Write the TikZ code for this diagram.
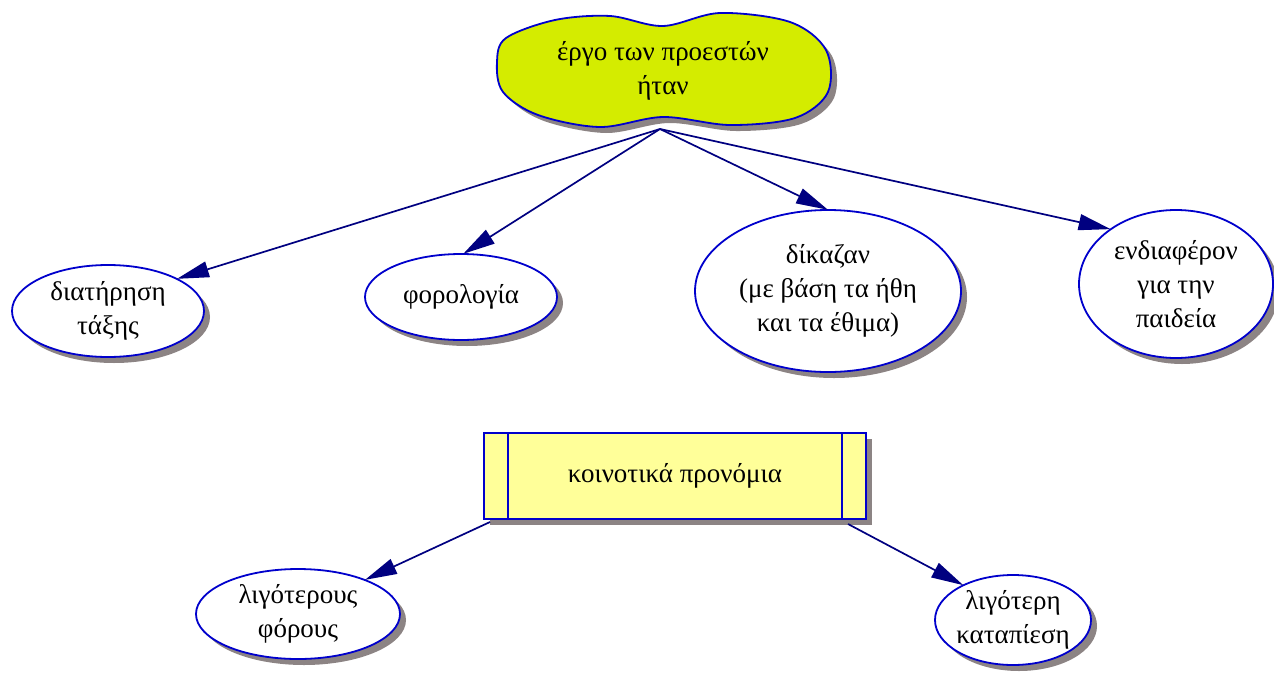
\documentclass[tikz,border=0pt]{standalone}
\usepackage{fontspec}
\setmainfont{Liberation Serif}
\usetikzlibrary{arrows.meta,shapes.geometric}
\definecolor{navyline}{HTML}{000080}
\definecolor{blueline}{HTML}{0000CC}
\definecolor{cloudfill}{HTML}{D4EC00}
\definecolor{boxfill}{HTML}{FFFF99}
\definecolor{shadowgray}{HTML}{8C8484}
\begin{document}
\begin{tikzpicture}[x=1pt,y=-1pt,
  txt/.style={font=\fontsize{27}{34}\selectfont, align=center, inner sep=0pt},
  conn/.style={draw=navyline, line width=1.7pt, -{Triangle[length=32pt,width=16pt]}}
]
\useasboundingbox (0,0) rectangle (1274,672);
% cloud
\def\cloudpath{plot[smooth cycle, tension=0.55] coordinates {(497,62) (506,38) (555,20) (610,16) (663,26) (720,13) (790,22) (826,50) (828,92) (795,118) (730,125) (663,117) (600,127) (538,115) (503,92)}}
\begin{scope}[shift={(6,6)}]
\fill[shadowgray] \cloudpath;
\end{scope}
\filldraw[fill=cloudfill, draw=blueline, line width=1.8pt] \cloudpath;
\node[txt] (cloud) at (663,71) {έργο των προεστών\\ήταν};
\coordinate (src) at (660,129);
% ellipses with shadows
\newcommand{\ellnode}[5]{%
  \fill[shadowgray] (#2+6,#3+6) ellipse [x radius=#4, y radius=#5];
  \draw[blueline, line width=1.8pt, fill=white] (#2,#3) ellipse [x radius=#4, y radius=#5];
  \node[ellipse, minimum width=2*#4, minimum height=2*#5, inner sep=0pt] (#1) at (#2,#3) {};
}
\ellnode{e1}{108}{311}{96}{46}
\node[txt] at (e1) {διατήρηση\\τάξης};
\ellnode{e2}{461}{297}{96}{43}
\node[txt] at (e2) {φορολογία};
\ellnode{e3}{828}{291}{133}{81}
\node[txt] at (e3) {δίκαζαν\\(με βάση τα ήθη\\και τα έθιμα)};
\ellnode{e4}{1176}{284}{97}{74}
\node[txt] at (e4) {ενδιαφέρον\\για την\\παιδεία};
\ellnode{e5}{298}{614}{102}{45}
\node[txt] at (e5) {λιγότερους\\φόρους};
\ellnode{e6}{1013}{620}{78}{45}
\node[txt] at (e6) {λιγότερη\\καταπίεση};
% box
\fill[shadowgray] (490,439) rectangle (872,525);
\filldraw[fill=boxfill, draw=blueline, line width=1.6pt] (484,433) rectangle (866,519);
\draw[blueline, line width=1.6pt] (508,433) -- (508,519) (842,433) -- (842,519);
\node[txt, minimum width=382pt, minimum height=86pt] (box) at (675,476) {κοινοτικά προνόμια};
% connectors
\draw[conn] (src) -- (e1.25);
\draw[conn] (src) -- (e2.87);
\draw[conn] (src) -- (e3.north);
\draw[conn] (src) -- (e4.140);
\coordinate (b1) at (490,522);
\coordinate (b2) at (848,524);
\draw[conn] (b1) -- (e5.27);
\draw[conn] (b2) -- (e6.145);
\end{tikzpicture}
\end{document}
